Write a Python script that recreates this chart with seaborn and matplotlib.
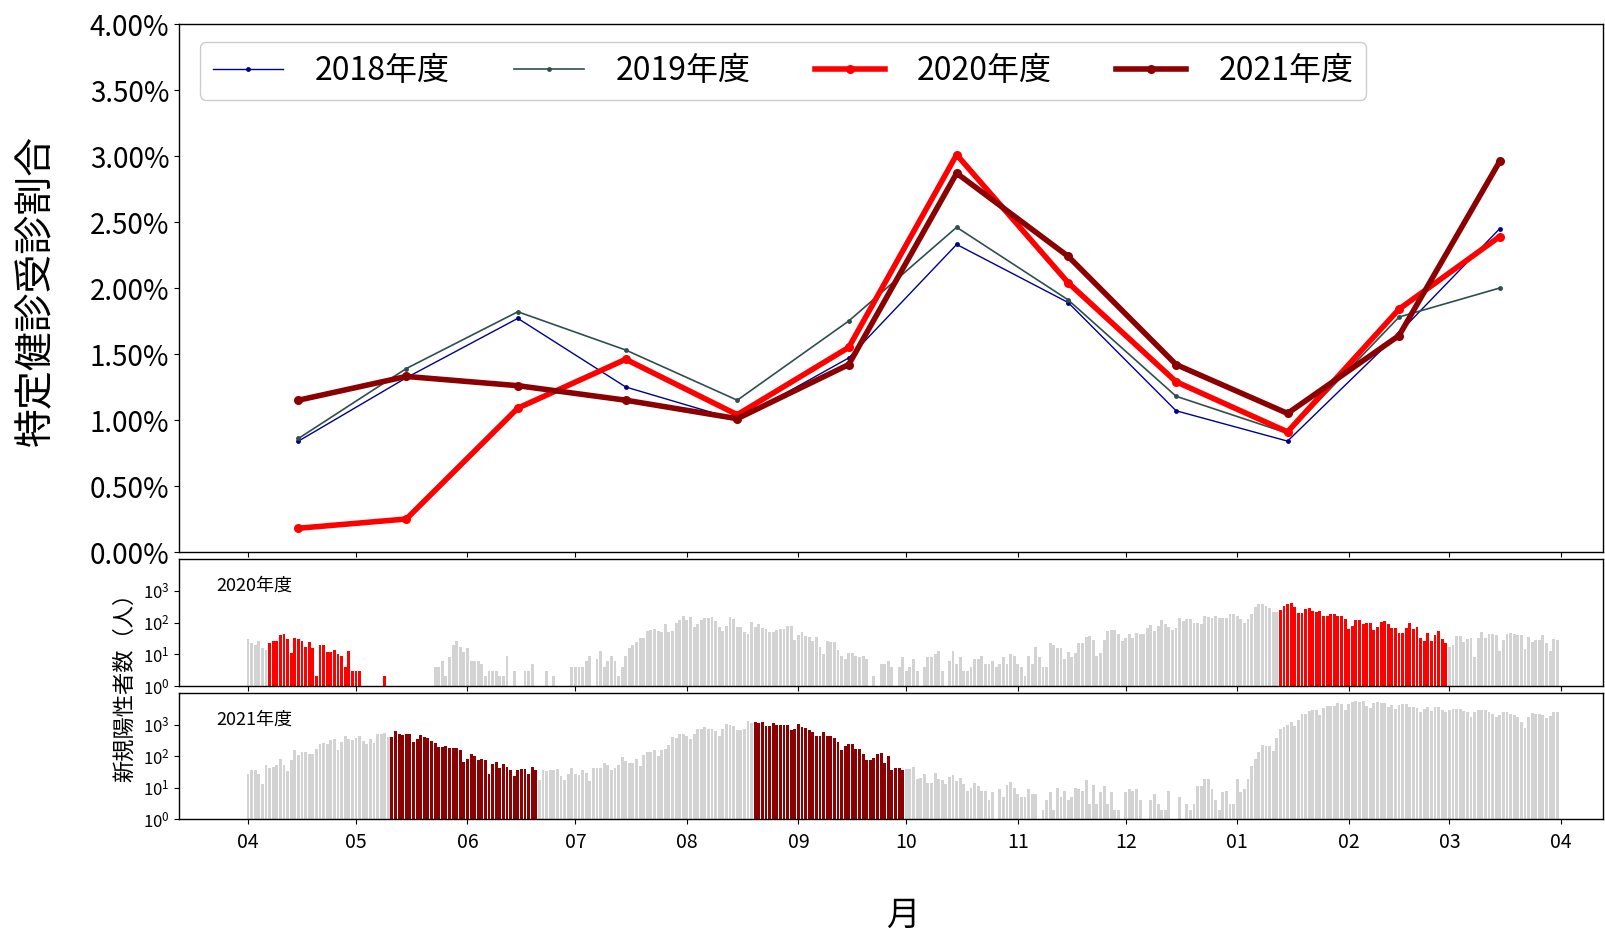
import numpy as np
import pandas as pd
import matplotlib
matplotlib.use("Agg")
import matplotlib.pyplot as plt
from matplotlib.ticker import FuncFormatter, NullLocator
import seaborn as sns

plt.rcParams['font.family'] = ['Noto Sans CJK JP', 'DejaVu Sans']

# ---- monthly screening rate (%), fiscal year April .. March -------------
fy_labels = ['2018年度', '2019年度', '2020年度', '2021年度']
rate_2018 = [0.84, 1.32, 1.77, 1.25, 1.00, 1.47, 2.33, 1.89, 1.07, 0.84, 1.66, 2.45]
rate_2019 = [0.86, 1.39, 1.82, 1.53, 1.15, 1.75, 2.46, 1.91, 1.18, 0.90, 1.78, 2.00]
rate_2020 = [0.18, 0.25, 1.09, 1.46, 1.04, 1.55, 3.01, 2.04, 1.29, 0.91, 1.84, 2.39]
rate_2021 = [1.15, 1.33, 1.26, 1.15, 1.01, 1.42, 2.87, 2.24, 1.42, 1.05, 1.64, 2.96]

# ---- daily new positive cases, one line per month (Apr .. Mar) ----------
cases_fy2020 = (
    [31, 22, 19, 27, 16, 14, 23, 26, 27, 39, 45, 30, 11, 32, 30, 27, 17, 25, 16, 2,
     20, 20, 12, 12, 14, 10, 9, 4, 13, 3] +
    [3, 3, 0, 0, 0, 0, 0, 0, 2, 0, 0, 0, 0, 0, 0, 0, 0, 0, 0, 0, 0, 0, 4, 4, 6, 2,
     8, 20, 27, 17, 12] +
    [16, 6, 6, 6, 5, 2, 3, 3, 3, 2, 2, 9, 0, 3, 0, 0, 3, 3, 5, 0, 0, 0, 3, 0, 2, 0,
     0, 0, 0, 4] +
    [4, 4, 4, 6, 9, 0, 7, 13, 4, 6, 9, 6, 2, 4, 9, 16, 19, 25, 32, 32, 54, 60, 64,
     54, 49, 92, 50, 54, 100, 124, 165] +
    [124, 146, 74, 88, 124, 135, 135, 150, 110, 73, 53, 78, 146, 127, 74, 74, 49,
     45, 104, 73, 88, 69, 64, 50, 52, 58, 64, 64, 76, 80, 29] +
    [39, 49, 37, 34, 26, 35, 17, 10, 27, 25, 25, 14, 9, 7, 11, 11, 9, 8, 9, 7, 0, 2,
     0, 5, 5, 6, 4, 0, 4, 8] +
    [3, 4, 7, 3, 0, 4, 8, 8, 10, 13, 3, 0, 6, 13, 5, 8, 3, 3, 4, 7, 7, 9, 5, 5, 6,
     4, 5, 8, 5, 10, 9] +
    [5, 4, 2, 9, 5, 17, 8, 4, 4, 23, 20, 16, 16, 7, 12, 8, 11, 22, 22, 35, 37, 29,
     9, 11, 28, 53, 57, 57, 45, 27] +
    [32, 42, 32, 46, 42, 42, 66, 82, 53, 76, 124, 88, 73, 57, 69, 143, 110, 133,
     133, 100, 95, 88, 155, 146, 143, 163, 135, 143, 143, 191, 191] +
    [155, 127, 100, 127, 191, 310, 386, 376, 340, 290, 210, 210, 256, 340, 370,
     425, 303, 206, 206, 273, 290, 238, 215, 232, 158, 158, 191, 191, 158, 158, 127] +
    [64, 76, 120, 120, 90, 100, 95, 57, 73, 104, 115, 88, 66, 69, 47, 47, 66, 100,
     61, 73, 32, 27, 46, 26, 40, 54, 31, 23] +
    [17, 19, 37, 37, 25, 30, 33, 8, 33, 50, 32, 45, 43, 39, 13, 29, 42, 46, 42, 39,
     39, 15, 36, 25, 28, 28, 39, 23, 13, 30, 28]
)
cases_fy2021 = (
    [26, 37, 37, 26, 13, 50, 41, 46, 51, 79, 52, 33, 72, 153, 109, 138, 138, 114,
     114, 172, 247, 260, 236, 316, 339, 160, 280, 433, 339, 330] +
    [366, 425, 295, 241, 339, 267, 490, 516, 540, 392, 404, 642, 516, 477, 516,
     516, 274, 339, 477, 404, 384, 310, 255, 199, 199, 213, 181, 186, 186, 153, 64] +
    [79, 114, 98, 77, 79, 75, 26, 56, 64, 41, 56, 46, 36, 23, 35, 40, 40, 26, 46,
     35, 17, 35, 33, 35, 35, 39, 24, 17, 26, 43] +
    [26, 25, 35, 28, 16, 43, 43, 41, 59, 50, 35, 43, 50, 94, 67, 58, 58, 79, 48,
     106, 135, 138, 160, 98, 160, 172, 230, 392, 375, 500, 500] +
    [433, 356, 500, 741, 741, 835, 741, 707, 623, 445, 741, 1070, 995, 880, 674,
     674, 707, 1260, 1116, 1203, 1096, 1203, 895, 880, 1116, 995, 995, 995, 963,
     655, 720] +
    [1040, 810, 776, 655, 595, 424, 424, 595, 433, 433, 365, 280, 152, 204, 236,
     236, 165, 165, 120, 72, 72, 89, 120, 123, 62, 101, 37, 43, 43, 35] +
    [39, 39, 44, 18, 20, 26, 14, 14, 29, 18, 17, 13, 21, 25, 16, 20, 13, 8, 10, 14,
     11, 8, 8, 4, 7, 0, 9, 5, 12, 15, 10] +
    [6, 5, 5, 9, 6, 6, 0, 2, 4, 7, 2, 10, 5, 8, 4, 5, 10, 9, 8, 17, 3, 12, 3, 7, 11,
     3, 7, 2, 2, 0] +
    [7, 9, 8, 9, 4, 0, 0, 4, 6, 3, 2, 2, 8, 0, 0, 5, 0, 3, 2, 3, 11, 11, 19, 19, 9,
     4, 2, 7, 8, 3, 3] +
    [18, 7, 9, 19, 48, 81, 135, 230, 214, 214, 145, 383, 722, 810, 995, 1203, 918,
     1357, 2200, 2200, 2750, 2960, 2800, 2000, 3400, 3770, 3970, 3970, 4900, 4460,
     2960] +
    [4570, 5160, 5400, 5300, 5700, 3970, 3240, 4900, 5160, 4900, 4780, 3500, 4070,
     3100, 4070, 4350, 4570, 3700, 3500, 3330, 2570, 3030, 3700, 2750, 3500, 3500,
     2960, 2570] +
    [2960, 3100, 3100, 3100, 2600, 2500, 1780, 2520, 2960, 2960, 2800, 2570, 2100,
     1780, 1960, 2520, 2570, 2100, 1960, 1700, 1203, 776, 1730, 2380, 2200, 2200,
     2000, 1620, 1800, 2570, 2570]
)

# state-of-emergency periods (highlighted bars)
emergency_fy2020 = [("2020-04-07", "2020-05-14"), ("2021-01-13", "2021-02-28")]
emergency_fy2021 = [("2021-05-11", "2021-06-20"), ("2021-08-20", "2021-09-30")]

# ---- shared day axis: days since 1 April ---------------------------------
fy_start = pd.Timestamp("2020-04-01")
month_starts = pd.date_range(fy_start, "2021-04-01", freq="MS")
month_days = (month_starts - fy_start).days
month_labels = month_starts.strftime("%m")
mid_days = ((month_starts[:-1] + pd.Timedelta(days=14)) - fy_start).days
xlim = (-19.2, 376.7)

# ---- figure & axes -------------------------------------------------------
W, H = 1605, 930
fig = plt.figure(figsize=(W / 100, H / 100), dpi=100)


def box(left, top, right, bottom):
    return [left / W, 1 - bottom / H, (right - left) / W, (bottom - top) / H]


ax_top = fig.add_axes(box(179, 24, 1603, 552))
ax_mid = fig.add_axes(box(179, 559, 1603, 686))
ax_bot = fig.add_axes(box(179, 693, 1603, 819))

# ---- screening rate lines ------------------------------------------------
series = [
    (rate_2018, fy_labels[0], "darkblue", 1.0, 3.5),
    (rate_2019, fy_labels[1], "darkslategray", 1.2, 3.5),
    (rate_2020, fy_labels[2], "red", 4.0, 6.5),
    (rate_2021, fy_labels[3], "darkred", 4.0, 6.5),
]
for vals, lab, col, lw, ms in series:
    sns.lineplot(x=mid_days, y=vals, color=col, linewidth=lw, marker="o",
                 markersize=ms, markeredgecolor=col, markeredgewidth=0,
                 label=lab, ax=ax_top)

ax_top.set_ylim(0, 4.0)
ax_top.set_yticks(np.arange(0, 4.01, 0.5))
ax_top.yaxis.set_major_formatter(FuncFormatter(lambda v, p: f"{v:.2f}%"))
ax_top.tick_params(axis="y", labelsize=20)
ax_top.set_xlim(*xlim)
ax_top.set_xticks(month_days)
ax_top.set_xticklabels([])
ax_top.set_xlabel("")
ax_top.set_ylabel("")
ax_top.legend(loc="upper left", bbox_to_anchor=(21 / 1424, 1 - 18 / 528),
              borderaxespad=0, ncol=4, fontsize=23, handlelength=2.2,
              columnspacing=2.0, handletextpad=1.0, borderpad=0.4,
              framealpha=1.0)


# ---- daily new cases bars ------------------------------------------------
def draw_cases(ax, counts, periods, hi_color, title, start):
    dates = pd.date_range(start, periods=len(counts), freq="D")
    flag = np.zeros(len(counts), dtype=bool)
    for a, b in periods:
        flag |= (dates >= pd.Timestamp(a)) & (dates <= pd.Timestamp(b))
    df = pd.DataFrame({
        "day": (dates - dates[0]).days,
        "cases": counts,
        "kind": np.where(flag, "emergency", "normal"),
    })
    sns.barplot(data=df, x="day", y="cases", hue="kind",
                hue_order=["normal", "emergency"],
                palette={"normal": "#d3d3d3", "emergency": hi_color},
                native_scale=True, dodge=False, width=0.8, saturation=1,
                errorbar=None, legend=False, linewidth=0, ax=ax)
    ax.set_yscale("log")
    ax.set_ylim(1, 1e4)
    ax.set_yticks([1, 10, 100, 1000])
    ax.yaxis.set_minor_locator(NullLocator())
    ax.tick_params(axis="y", labelsize=12)
    ax.set_xlim(*xlim)
    ax.set_xticks(month_days)
    ax.set_xlabel("")
    ax.set_ylabel("")
    ax.text(0.0265, 0.79, title, transform=ax.transAxes, fontsize=13,
            va="center", ha="left")


draw_cases(ax_mid, cases_fy2020, emergency_fy2020, "red", "2020年度", "2020-04-01")
draw_cases(ax_bot, cases_fy2021, emergency_fy2021, "darkred", "2021年度", "2021-04-01")

ax_mid.set_xticklabels([])
ax_bot.set_xticklabels(month_labels)
ax_bot.tick_params(axis="x", labelsize=14, pad=6)

for ax in (ax_top, ax_mid, ax_bot):
    for s in ax.spines.values():
        s.set_color("black")
        s.set_linewidth(1.0)

fig.text(36 / W, 1 - 290 / H, "特定健診受診割合", rotation=90, fontsize=28,
         ha="center", va="center")
fig.text(125 / W, 1 - 682 / H, "新規陽性者数（人）", rotation=90, fontsize=16,
         ha="center", va="center")
fig.text(903 / W, 1 - 915 / H, "月", fontsize=24, ha="center", va="center")

fig.savefig("out.png", dpi=100)
